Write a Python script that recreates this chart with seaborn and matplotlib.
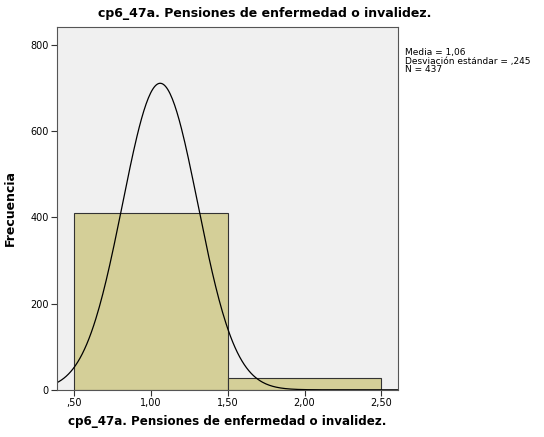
import numpy as np
import pandas as pd
import matplotlib
matplotlib.use("Agg")
import matplotlib.pyplot as plt
import seaborn as sns

valores = [1, 2]
frecuencias = [410, 27]
bordes = [0.5, 1.5, 2.5]
media = 1.06
desv = 0.245
n_total = 437
xticks = [0.5, 1.0, 1.5, 2.0, 2.5]
xtick_labels = [",50", "1,00", "1,50", "2,00", "2,50"]
yticks = [0, 200, 400, 600, 800]

sns.set_style("white", {"text.color": "black", "xtick.color": "black",
                        "ytick.color": "black", "axes.labelcolor": "black"})
plt.rcParams["font.family"] = ["DejaVu Sans"]

fig = plt.figure(figsize=(5.44, 4.37), dpi=100)
ax = fig.add_axes([0.105, 0.108, 0.627, 0.83])
ax.set_facecolor("#f0f0f0")

df = pd.DataFrame({"valor": valores, "frec": frecuencias})
sns.histplot(data=df, x="valor", weights="frec", bins=bordes, ax=ax,
             color="#d4cf98", alpha=1, edgecolor="#333333", linewidth=0.8)

# curva normal
xs = np.linspace(0.389, 2.61, 300)
ys = n_total * 1.0 / (desv * np.sqrt(2 * np.pi)) * np.exp(-0.5 * ((xs - media) / desv) ** 2)
sns.lineplot(x=xs, y=ys, ax=ax, color="black", linewidth=0.9)

ax.set_xlim(0.389, 2.61)
ax.set_ylim(0, 842)
ax.set_xticks(xticks)
ax.set_xticklabels(xtick_labels, fontsize=7)
ax.set_yticks(yticks)
ax.set_yticklabels([str(v) for v in yticks], fontsize=7)
ax.tick_params(axis="both", length=4, width=0.8, color="#333333", direction="out",
               bottom=True, left=True, pad=2, labelcolor="black")
for s in ax.spines.values():
    s.set_color("#555555")
    s.set_linewidth(0.8)

fig.suptitle("cp6_47a. Pensiones de enfermedad o invalidez.", fontsize=9,
             fontweight="bold", x=0.487, y=0.985, va="top", color="black")
ax.set_xlabel("cp6_47a. Pensiones de enfermedad o invalidez.", fontsize=8.6,
              fontweight="bold", labelpad=5, color="black")
ax.set_ylabel("Frecuencia", fontsize=9, fontweight="bold", labelpad=10, color="black")

fig.text(0.745, 0.89, "Media = 1,06\nDesviación estándar = ,245\nN = 437",
         fontsize=6.5, va="top", ha="left", linespacing=0.95, color="black")

fig.savefig("out.png", dpi=100)
